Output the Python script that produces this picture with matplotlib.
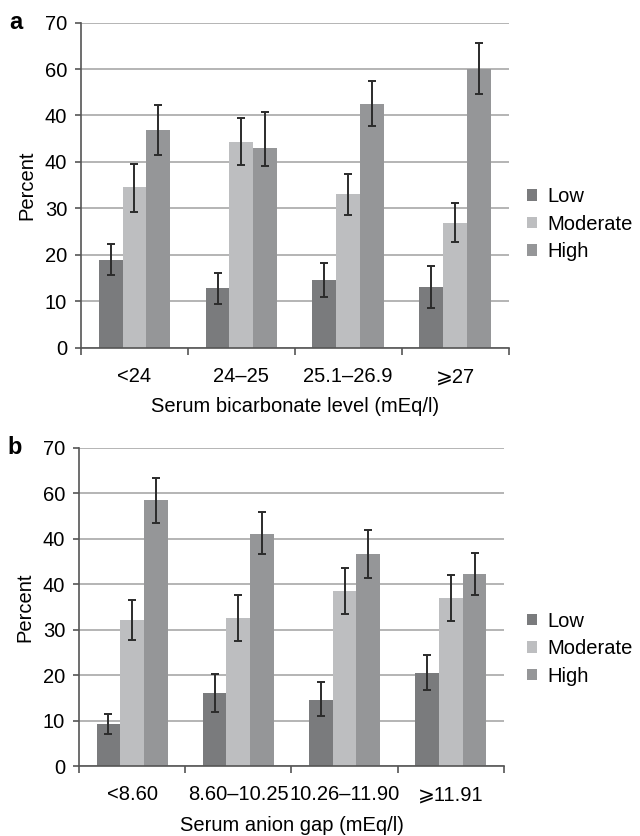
import matplotlib
matplotlib.use("Agg")
import matplotlib.pyplot as plt
import numpy as np

plt.rcParams['font.family'] = ['Liberation Sans', 'DejaVu Sans']

series = ['Low', 'Moderate', 'High']
colors = ['#7a7b7d', '#bdbec0', '#959698']

# panel a: serum bicarbonate
cats_a = ['<24', '24\u201325', '25.1\u201326.9', '\u2a7e27']
vals_a = [[18.9, 12.9, 14.6, 13.1],
          [34.5, 44.2, 33.0, 26.9],
          [46.9, 43.0, 52.5, 60.0]]
hi_a = [[22.3, 16.2, 18.2, 17.7],
        [39.5, 49.4, 37.5, 31.2],
        [52.2, 50.8, 57.4, 65.6]]
lo_a = [[15.6, 9.5, 11.0, 8.6],
        [29.2, 39.3, 28.6, 22.7],
        [41.6, 39.1, 47.7, 54.6]]

# panel b: serum anion gap
cats_b = ['<8.60', '8.60\u201310.25', '10.26\u201311.90', '\u2a7e11.91']
vals_b = [[9.3, 16.1, 14.6, 20.5],
          [32.0, 32.5, 38.4, 37.0],
          [58.4, 51.1, 46.6, 42.3]]
hi_b = [[11.4, 20.3, 18.4, 24.5],
        [36.5, 37.6, 43.5, 41.9],
        [63.3, 55.8, 51.8, 46.9]]
lo_b = [[7.0, 11.9, 11.1, 16.7],
        [27.6, 27.5, 33.5, 31.9],
        [53.5, 46.5, 41.4, 37.6]]

# tick labels as printed (the 50 line is labelled 40 in the original)
yticks = [0, 10, 20, 30, 40, 50, 60, 70]
ytick_labels = ['0', '10', '20', '30', '40', '40', '60', '70']

fig = plt.figure(figsize=(6.4, 8.36), dpi=100)
ax_a = fig.add_axes([0.1266, 0.584, 0.668, 0.389])
ax_b = fig.add_axes([0.1234, 0.0837, 0.664, 0.381])

W = 0.223
FS = 14.5

def draw(ax, cats, vals, hi, lo, xlabel, letter, leg_y):
    x = np.arange(len(cats)) + 0.5
    handles = []
    for i in range(3):
        v = np.array(vals[i])
        err = [v - np.array(lo[i]), np.array(hi[i]) - v]
        b = ax.bar(x + (i - 1) * W, v, W, color=colors[i], zorder=2, label=series[i])
        ax.errorbar(x + (i - 1) * W, v, yerr=err, fmt='none', ecolor='#2b2b2b',
                    elinewidth=1.4, capsize=3.2, capthick=1.4, zorder=3)
        handles.append(b)
    ax.set_xlim(0, 4)
    ax.set_ylim(0, 70)
    ax.set_yticks(yticks)
    ax.set_yticklabels(ytick_labels, fontsize=FS)
    ax.yaxis.grid(True, color='#a8a8a8', linewidth=1.2, zorder=0)
    ax.set_axisbelow(True)
    ax.set_xticks([0, 1, 2, 3, 4])
    ax.set_xticklabels([])
    ax.set_xticks(x, minor=True)
    ax.set_xticklabels(cats, minor=True, fontsize=FS)
    ax.tick_params(axis='x', which='minor', length=0, pad=14)
    ax.tick_params(axis='x', which='major', length=5, width=1.2, color='#555555')
    ax.tick_params(axis='y', length=4, width=1.2, color='#555555', pad=6)
    for s in ['top', 'right']:
        ax.spines[s].set_visible(False)
    for s in ['left', 'bottom']:
        ax.spines[s].set_color('#555555')
        ax.spines[s].set_linewidth(1.2)
    ax.set_ylabel('Percent', fontsize=FS, labelpad=6)
    ax.set_xlabel(xlabel, fontsize=FS, labelpad=8)
    ax.text(-0.168, 1.0, letter, transform=ax.transAxes, fontsize=17,
            fontweight='bold', va='center', ha='left')
    fig.legend(handles=handles, loc='center left', bbox_to_anchor=(0.823, leg_y),
               frameon=False, fontsize=FS, handlelength=0.5, handleheight=0.5,
               handletextpad=0.55, labelspacing=0.42, borderaxespad=0, borderpad=0)

draw(ax_a, cats_a, vals_a, hi_a, lo_a, 'Serum bicarbonate level (mEq/l)', 'a', 0.732)
draw(ax_b, cats_b, vals_b, hi_b, lo_b, 'Serum anion gap (mEq/l)', 'b', 0.224)

fig.savefig('out.png', dpi=100)
